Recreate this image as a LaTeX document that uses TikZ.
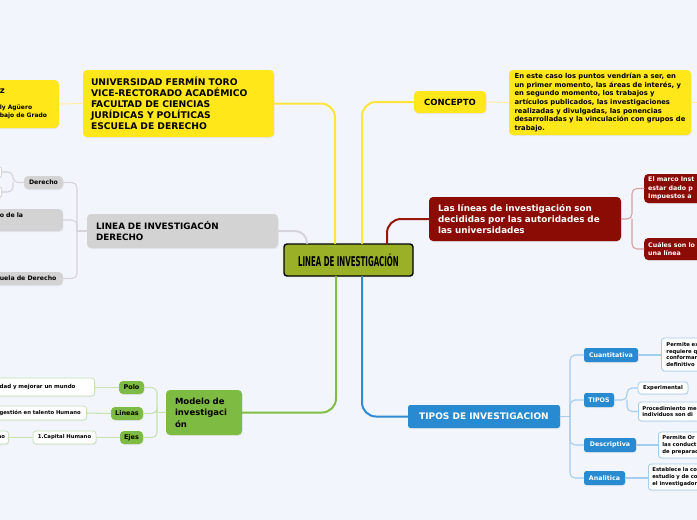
\documentclass[tikz,border=0pt]{standalone}
\usepackage{fontspec}
\setmainfont{DejaVu Sans}
\newfontfamily\titlefont[FakeStretch=0.52]{DejaVu Sans}
\usetikzlibrary{shadows}

\definecolor{bgpaper}{RGB}{243,245,253}
\definecolor{yelfill}{RGB}{255,231,25}
\definecolor{yelline}{RGB}{255,228,60}
\definecolor{yelsub}{RGB}{255,238,170}
\definecolor{redfill}{RGB}{139,12,4}
\definecolor{redline}{RGB}{150,20,10}
\definecolor{redsub}{RGB}{215,160,160}
\definecolor{bluefill}{RGB}{40,139,209}
\definecolor{blueline}{RGB}{45,140,210}
\definecolor{bluesub}{RGB}{165,205,238}
\definecolor{greenfill}{RGB}{126,187,66}
\definecolor{greenline}{RGB}{130,190,70}
\definecolor{greensub}{RGB}{200,226,180}
\definecolor{greyfill}{RGB}{211,211,211}
\definecolor{greyline}{RGB}{212,212,218}
\definecolor{centrefill}{RGB}{154,177,39}

\newcommand\mapfs[2]{\fontsize{#1}{#2}\selectfont}

\tikzset{
  mapnode/.style={rounded corners=4pt, inner ysep=0pt, inner xsep=4pt, align=left,
    drop shadow={opacity=0.12, shadow xshift=0.5pt, shadow yshift=-1pt}},
  yelnode/.style={mapnode, fill=yelfill, text=black},
  rednode/.style={mapnode, fill=redfill, text=white},
  bluenode/.style={mapnode, fill=bluefill, text=white, rounded corners=2.5pt},
  greennode/.style={mapnode, fill=greenfill, text=black},
  greynode/.style={mapnode, fill=greyfill, text=black},
  leafbox/.style={mapnode, fill=white, draw=#1, line width=0.8pt, rounded corners=3pt},
  mainline/.style={draw=#1, line width=2pt, rounded corners=14pt},
  subline/.style={draw=#1, line width=1.1pt, rounded corners=5pt},
}

\begin{document}
\begin{tikzpicture}[x=1pt, y=-1pt, line cap=round]
\useasboundingbox (0,0) rectangle (697,520);
\clip (0,0) rectangle (697,520);
\fill[bgpaper] (0,0) rectangle (697,520);

% centre
\node[mapnode, fill=centrefill, draw=black, line width=1.4pt, rounded corners=3pt,
  minimum width=129, minimum height=32, inner xsep=0pt, align=center,
  font=\titlefont\bfseries\mapfs{13.5}{14}] (centre) at (348.5,260) {LINEA DE INVESTIGACIÓN};

% yellow, left
\node[yelnode, text width=175, inner xsep=8pt, minimum height=67, font=\bfseries\mapfs{9.2}{11}] (uni) at (178.5,103.5)
  {UNIVERSIDAD FERMÍN TORO\\VICE-RECTORADO ACADÉMICO\\FACULTAD DE CIENCIAS\\JURÍDICAS Y POLÍTICAS\\ESCUELA DE DERECHO};
\node[yelnode, anchor=east, text width=55, minimum height=48, font=\bfseries\mapfs{6}{8.5}] (autor) at (59,104)
  {\mapfs{8.5}{10}z\\[7pt]\mapfs{6}{8.5}ly Agüero\\bajo de Grado};

% yellow, right
\node[yelnode, minimum width=72, minimum height=22, align=center, font=\bfseries\mapfs{8.5}{10}] (concept) at (450,102) {CONCEPTO};
\node[yelnode, minimum width=182, minimum height=65, inner xsep=2pt, font=\bfseries\mapfs{6.8}{8.7}] (ctext) at (600,102.5)
  {En este caso los puntos vendrían a ser, en\\un primer momento, las áreas de interés, y\\en segundo momento, los trabajos y\\artículos publicados, las investigaciones\\realizadas y divulgadas, las ponencias\\desarrolladas y la vinculación con grupos de\\trabajo.};
\coordinate (cout) at (712,102);

% red
\node[rednode, text width=174, inner xsep=9pt, minimum height=44, font=\bfseries\mapfs{8.8}{11}] (red) at (525,219)
  {Las líneas de investigación son\\decididas por las autoridades de\\las universidades};
\node[rednode, anchor=west, text width=80, minimum height=29, font=\bfseries\mapfs{6.3}{8.5}] (marco) at (644,188.5)
  {El marco Inst\\estar dado p\\Impuestos a};
\node[rednode, anchor=west, text width=80, minimum height=22, font=\bfseries\mapfs{6.3}{8.5}] (cuales) at (644,249)
  {Cuáles son lo\\una línea};
\coordinate (rfork) at (632,219);

% blue
\node[bluenode, minimum width=152, minimum height=23, align=center, font=\bfseries\mapfs{9}{10}] (tipinv) at (484,416.5) {TIPOS DE INVESTIGACION};
\node[bluenode, minimum width=54, minimum height=14, inner xsep=0pt, align=center, font=\bfseries\mapfs{6.3}{8}] (cuant) at (611,355) {Cuantitativa};
\node[bluenode, minimum width=30, minimum height=14, inner xsep=0pt, align=center, font=\bfseries\mapfs{6.3}{8}] (tipos) at (599,400) {TIPOS};
\node[bluenode, minimum width=52, minimum height=14, inner xsep=0pt, align=center, font=\bfseries\mapfs{6.3}{8}] (descr) at (610,445) {Descriptiva};
\node[bluenode, minimum width=41, minimum height=14, inner xsep=0pt, align=center, font=\bfseries\mapfs{6.3}{8}] (analit) at (604.5,478) {Analitica};
\node[leafbox=bluesub, anchor=west, text width=80, inner xsep=5pt, minimum height=33, font=\bfseries\mapfs{5.3}{6.6}] (cuantleaf) at (661,354.5)
  {Permite ex\\requiere q\\conforman\\definitivo};
\node[leafbox=bluesub, minimum width=50, minimum height=12, inner xsep=0pt, align=center, font=\bfseries\mapfs{5.3}{6.6}] (exper) at (663,388) {Experimental};
\node[leafbox=bluesub, anchor=west, text width=80, minimum height=19, font=\bfseries\mapfs{5.3}{6.8}] (proced) at (638,411.5)
  {Procedimiento me\\individuos son di};
\node[leafbox=bluesub, anchor=west, text width=80, minimum height=26, font=\bfseries\mapfs{5.3}{7}] (descrleaf) at (658,445)
  {Permite Or\\las conduct\\de preparac};
\node[leafbox=bluesub, anchor=west, text width=80, minimum height=26, font=\bfseries\mapfs{5.3}{7}] (analitleaf) at (648,477)
  {Establece la co\\estudio y de co\\el investigador};
\coordinate (bfork) at (570,416.5);
\coordinate (tfork) at (627,400);

% green
\node[greennode, text width=58, inner xsep=9pt, minimum height=45, font=\bfseries\mapfs{8.5}{11.5}] (modelo) at (204,412.5)
  {Modelo de\\investigaci\\ón};
\node[greennode, minimum width=25, minimum height=13, inner xsep=0pt, align=center, font=\bfseries\mapfs{6.5}{8}] (polo) at (131.5,387.5) {Polo};
\node[greennode, minimum width=32, minimum height=13, inner xsep=0pt, align=center, font=\bfseries\mapfs{6.5}{8}] (lineas) at (127,413.5) {Lineas};
\node[greennode, minimum width=23, minimum height=13, inner xsep=0pt, align=center, font=\bfseries\mapfs{6.5}{8}] (ejes) at (131.5,437.5) {Ejes};
\node[leafbox=greensub, anchor=east, text width=91, minimum height=18, font=\bfseries\mapfs{5.5}{7}] (pololeaf) at (95,387) {dad y mejorar un mundo};
\node[leafbox=greensub, anchor=east, text width=83, minimum height=14, font=\bfseries\mapfs{5.3}{7}] (lineasleaf) at (87,413) {gestión en talento Humano};
\node[leafbox=greensub, minimum width=63, minimum height=13, inner xsep=0pt, align=center, font=\bfseries\mapfs{5.3}{7}] (capital) at (64.5,437.5) {1.Capital Humano};
\node[leafbox=greensub, anchor=east, text width=9, minimum height=13, inner xsep=2pt, font=\bfseries\mapfs{5.3}{7}] (capleaf) at (9,437.5) {no};
\coordinate (gfork) at (157,412.5);

% grey
\node[greynode, text width=173, inner xsep=9pt, minimum height=34, font=\bfseries\mapfs{8.8}{11}] (derecho) at (182.5,231)
  {LINEA DE INVESTIGACÓN\\DERECHO};
\node[greynode, minimum width=39, minimum height=13, inner xsep=0pt, align=center, font=\bfseries\mapfs{6.2}{8}] (der) at (43.5,182.5) {Derecho};
\node[greynode, anchor=east, text width=59, minimum height=22, font=\bfseries\mapfs{6.2}{9}] (ambito) at (63,220) {o de la\\\mbox{}};
\node[greynode, anchor=east, text width=59, minimum height=13, font=\bfseries\mapfs{6.2}{8}] (escuela) at (63,278.5) {uela de Derecho};
\node[leafbox=greyline, anchor=east, minimum width=20, minimum height=11] (derleafa) at (2,172) {};
\node[leafbox=greyline, anchor=east, minimum width=20, minimum height=11] (derleafb) at (2,192) {};
\coordinate (dfork) at (77,231);
\coordinate (dsubfork) at (13,182.5);

% main branches
\draw[mainline=yelline] (uni.east) -| ([xshift=-13.5pt]centre.north);
\draw[mainline=yelline] ([xshift=13.5pt]centre.north) |- (concept.west);
\draw[mainline=redline] ([xshift=38.5pt]centre.north) |- (red.west);
\draw[mainline=greyline, rounded corners=12pt] (derecho.east) -| ([xshift=-41.5pt]centre.north);
\draw[mainline=greenline] ([xshift=-12.5pt]centre.south) |- (modelo.east);
\draw[mainline=blueline] ([xshift=13.5pt]centre.south) |- (tipinv.west);

% sub branches
\draw[subline=yelsub] (autor.east) -- (uni.west);
\draw[subline=yelsub] (concept.east) -- (ctext.west);
\draw[subline=yelsub] (ctext.east) -- (cout);

\draw[subline=redsub] (red.east) -- (rfork) |- (marco.west);
\draw[subline=redsub] (rfork) |- (cuales.west);

\draw[subline=bluesub] (tipinv.east) -- (bfork);
\draw[subline=bluesub] (bfork) |- (cuant.west);
\draw[subline=bluesub] (bfork) |- (tipos.west);
\draw[subline=bluesub] (bfork) |- (descr.west);
\draw[subline=bluesub] (bfork) |- (analit.west);
\draw[subline=bluesub] (cuant.east) -- (cuantleaf.west |- cuant.east);
\draw[subline=bluesub] (tipos.east) -- (tfork) |- (exper.west);
\draw[subline=bluesub] (tfork) |- (proced.west);
\draw[subline=bluesub] (descr.east) -- (descrleaf.west);
\draw[subline=bluesub] (analit.east) -- (analitleaf.west |- analit.east);

\draw[subline=greensub] (modelo.west) -- (gfork);
\draw[subline=greensub] (gfork) |- (polo.east);
\draw[subline=greensub] (gfork) |- (lineas.east);
\draw[subline=greensub] (gfork) |- (ejes.east);
\draw[subline=greensub] (polo.west) -- (pololeaf.east |- polo.west);
\draw[subline=greensub] (lineas.west) -- (lineasleaf.east);
\draw[subline=greensub] (ejes.west) -- (capital.east);
\draw[subline=greensub] (capital.west) -- (capleaf.east);

\draw[subline=greyline] (derecho.west) -- (dfork);
\draw[subline=greyline] (dfork) |- (der.east);
\draw[subline=greyline] (dfork) |- (ambito.east);
\draw[subline=greyline] (dfork) |- (escuela.east);
\draw[subline=greyline] (der.west) -- (dsubfork) |- (derleafa.east);
\draw[subline=greyline] (dsubfork) |- (derleafb.east);
\end{tikzpicture}
\end{document}
